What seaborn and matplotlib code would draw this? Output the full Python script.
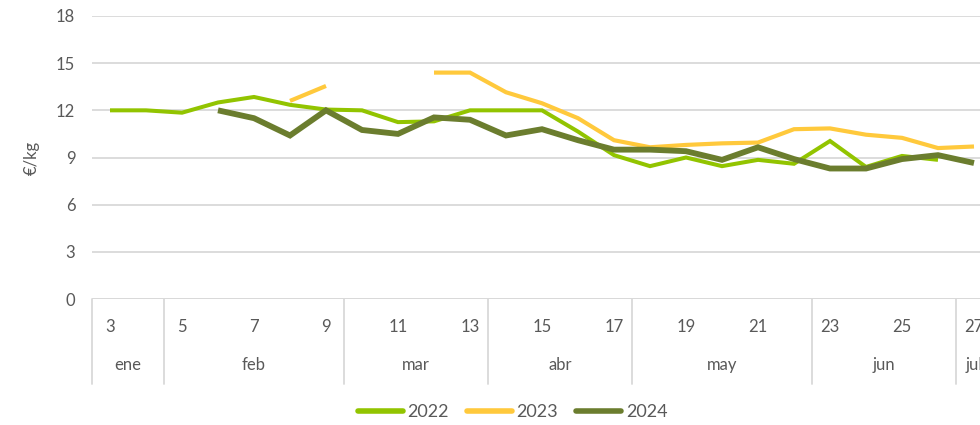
import matplotlib.pyplot as plt
import matplotlib.transforms as mtransforms
from matplotlib.lines import Line2D
import pandas as pd
import numpy as np
import seaborn as sns

weeks = list(range(3, 28))
nan = np.nan

price_2022 = [12.0, 12.0, 11.85, 12.5, 12.85, 12.35, 12.05, 12.0, 11.25, 11.3, 12.0,
              12.0, 12.0, 10.65, 9.15, 8.45, 9.0, 8.45, 8.85, 8.6, 10.05, 8.4, 9.1, 8.85, nan]
price_2023 = [nan, nan, nan, nan, nan, 12.6, 13.55, nan, nan, 14.4, 14.4,
              13.15, 12.45, 11.5, 10.1, 9.65, 9.8, 9.9, 9.95, 10.8, 10.85, 10.45, 10.25, 9.6, 9.7]
price_2024 = [nan, nan, nan, 12.0, 11.5, 10.4, 12.0, 10.75, 10.5, 11.55, 11.4,
              10.4, 10.8, 10.1, 9.5, 9.5, 9.4, 8.85, 9.65, 8.9, 8.3, 8.3, 8.9, 9.15, 8.65]

week_ticks = list(range(3, 28, 2))
months = ["ene", "feb", "mar", "abr", "may", "jun", "jul"]
month_edges = [2.5, 4.5, 9.5, 13.5, 17.5, 22.5, 26.5, 27.5]

colors = {"2022": "#92C400", "2023": "#FFC93C", "2024": "#6B7D2E"}
widths = {"2022": 2.9, "2023": 3.0, "2024": 4.2}


def to_long(year, values):
    df = pd.DataFrame({"week": weeks, "price": values})
    df["year"] = year
    # a new segment starts after every gap, so lines are not bridged
    df["seg"] = year + "_" + df["price"].isna().cumsum().astype(str)
    return df.dropna()


data = pd.concat([to_long("2022", price_2022),
                  to_long("2023", price_2023),
                  to_long("2024", price_2024)])

sns.set_style("white")
plt.rcParams["font.family"] = ["Lato", "DejaVu Sans"]

fig = plt.figure(figsize=(9.8, 4.25), dpi=100)
ax = fig.add_axes([92 / 980, 126 / 425, 900 / 980, 283 / 425])

for year in ["2022", "2023", "2024"]:
    sub = data[data["year"] == year]
    sns.lineplot(data=sub, x="week", y="price", units="seg", estimator=None,
                 color=colors[year], lw=widths[year], ax=ax, legend=False,
                 solid_joinstyle="miter", solid_capstyle="butt")

grid_c = "#D9D9D9"
txt_c = "#595959"
ax.set_ylim(0, 18)
ax.set_yticks(range(0, 19, 3))
ax.set_xlim(2.5, 27.5)
ax.yaxis.grid(True, color=grid_c, lw=1.3)
ax.xaxis.grid(False)
for s in ax.spines.values():
    s.set_visible(False)
ax.axhline(0, color=grid_c, lw=1.3)
ax.tick_params(axis="y", length=0, pad=12, labelsize=12, labelcolor=txt_c)
ax.set_xticks(week_ticks)
ax.set_xticklabels([])
ax.tick_params(axis="x", length=0)
ax.set_xlabel("")
ax.set_ylabel("€/kg", fontsize=12, color=txt_c, labelpad=12)

trans = mtransforms.blended_transform_factory(ax.transData, ax.transAxes)
for w in week_ticks:
    ax.text(w, -0.098, str(w), transform=trans, ha="center", va="center",
            fontsize=12, color=txt_c)
for i, m in enumerate(months):
    mid = (month_edges[i] + month_edges[i + 1]) / 2
    ax.text(mid, -0.233, m, transform=trans, ha="center", va="center",
            fontsize=12, color=txt_c)
for e in month_edges[:-1]:
    ax.plot([e, e], [0, -0.3], transform=trans, color=grid_c, lw=1.3, clip_on=False)

handles = [Line2D([], [], color=colors[y], lw=4, solid_capstyle="round")
           for y in ["2022", "2023", "2024"]]
fig.legend(handles, ["2022", "2023", "2024"], loc="center", bbox_to_anchor=(0.523, 0.031),
           ncol=3, frameon=False, fontsize=13, handlelength=2.5, handletextpad=0.25,
           columnspacing=1.0, labelcolor=txt_c)

fig.savefig("out.png", dpi=100)
